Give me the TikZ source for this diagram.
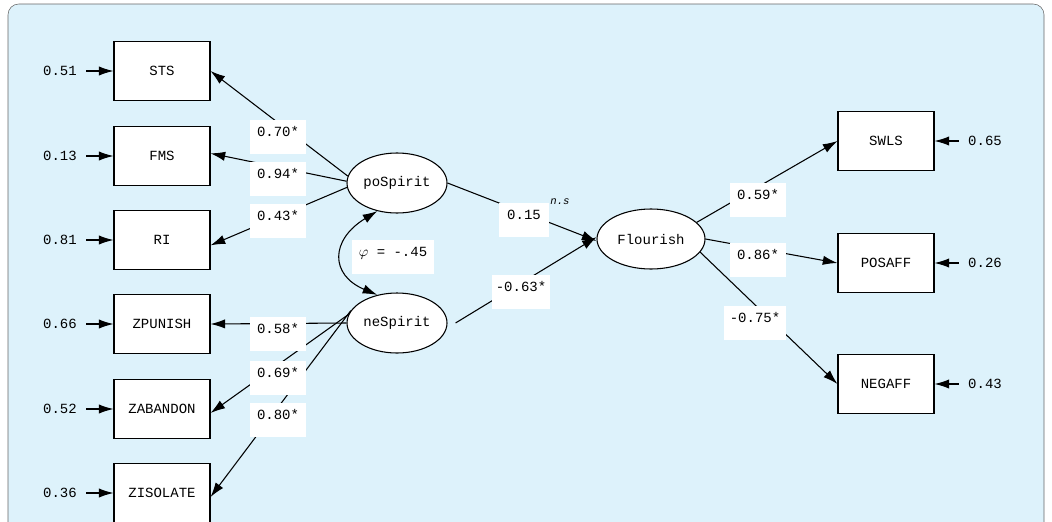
\documentclass[tikz,border=0pt]{standalone}
\usepackage{fontspec}
\setmainfont{Liberation Mono}
\usetikzlibrary{arrows.meta,shapes.geometric}
\definecolor{bgblue}{RGB}{221,242,251}
\begin{document}
\begin{tikzpicture}[x=0.75pt,y=-0.75pt,font=\fontsize{10.5}{12}\selectfont,
  obs/.style={draw,line width=0.8pt,fill=white,minimum width=72pt,minimum height=44pt,inner sep=0pt},
  lat/.style={draw,line width=0.8pt,fill=white,ellipse,minimum width=75pt,minimum height=45pt,inner sep=0pt},
  lab/.style={fill=white,inner sep=0pt,minimum width=42pt,minimum height=26pt,text depth=0pt},
  arr/.style={line width=0.8pt,-{Latex[length=11pt,width=7pt]}},
  ln/.style={line width=0.8pt}]
\useasboundingbox (0,0) rectangle (1052,521);
\begin{scope}
\clip (0,0) rectangle (1052,521);
\draw[rounded corners=8pt,fill=bgblue,draw=gray!80!black] (8,4) rectangle (1044,560);
\end{scope}
% observed
\node[obs] (sts) at (162,71) {STS};
\node[obs] (fms) at (162,156) {FMS};
\node[obs] (ri) at (162,240) {RI};
\node[obs] (zp) at (162,324) {ZPUNISH};
\node[obs] (za) at (162,409) {ZABANDON};
\node[obs] (zi) at (162,493) {ZISOLATE};
\node[obs] (swls) at (886,141) {SWLS};
\node[obs] (pos) at (886,263) {POSAFF};
\node[obs] (neg) at (886,384) {NEGAFF};
% latent
\node[lat] (po) at (397,183) {poSpirit};
\node[lat] (ne) at (397,323) {neSpirit};
\node[lat,minimum width=81pt] (fl) at (651,239) {Flourish};
% errors
\foreach \n/\v/\y in {e1/0.51/71,e2/0.13/156,e3/0.81/240,e4/0.66/324,e5/0.52/409,e6/0.36/493}
  \node[inner sep=1pt] (\n) at (60,\y) {\v};
\foreach \n/\v/\y in {r1/0.65/141,r2/0.26/263,r3/0.43/384}
  \node[inner sep=1pt] (\n) at (985,\y) {\v};
\foreach \a/\b in {e1/sts,e2/fms,e3/ri,e4/zp,e5/za,e6/zi} \draw[arr] ([xshift=6]\a.east) -- (\b.west);
\foreach \a/\b in {r1/swls,r2/pos,r3/neg} \draw[arr] ([xshift=-6]\a.west) -- (\b.east);
% loadings
\draw[arr] (po.172) -- (sts.east);
\draw[arr] (po.178) -- ([yshift=2]fms.east);
\draw[arr] (po.185) -- ([yshift=-4]ri.east);
\draw[arr] (ne.west) -- (zp.east);
\draw[arr] (ne.170) -- ([yshift=-3]za.east);
\draw[arr] (ne.165) -- ([yshift=-3]zi.east);
\draw[arr] (po.east) -- (fl.182);
\draw[arr] ([xshift=6]ne.east) -- (fl.178);
\draw[arr] (fl.20) -- (swls.west);
\draw[arr] (fl.0) -- (pos.west);
\draw[arr] (fl.-15) -- (neg.west);
\draw[line width=0.8pt,{Latex[length=11pt,width=7pt]}-{Latex[length=11pt,width=7pt]}] (po.235) .. controls (330,240) and (330,275) .. (ne.125);
% labels
\node[lab] (l1) at (278,137) {\raisebox{8pt}{0.70*}};
\node[lab] (l2) at (278,179) {\raisebox{8pt}{0.94*}};
\node[lab] (l3) at (278,221) {\raisebox{8pt}{0.43*}};
\node[lab] (l4) at (278,334) {\raisebox{8pt}{0.58*}};
\node[lab] (l5) at (278,378) {\raisebox{8pt}{0.69*}};
\node[lab] (l6) at (278,420) {\raisebox{8pt}{0.80*}};
\node[lab,minimum width=62pt] (phi) at (393,257) {\raisebox{8pt}{$\varphi$ = -.45}};
\node[lab,minimum width=37pt] (l7) at (524,220) {\raisebox{8pt}{0.15}};
\node[font=\itshape\fontsize{8}{10}\selectfont] (ns) at (560,202) {n.s};
\node[lab,minimum width=44pt] (l8) at (521,292) {\raisebox{8pt}{-0.63*}};
\node[lab] (l9) at (758,200) {\raisebox{8pt}{0.59*}};
\node[lab] (l10) at (758,260) {\raisebox{8pt}{0.86*}};
\node[lab,minimum width=46pt] (l11) at (755,323) {\raisebox{8pt}{-0.75*}};
\end{tikzpicture}
\end{document}
